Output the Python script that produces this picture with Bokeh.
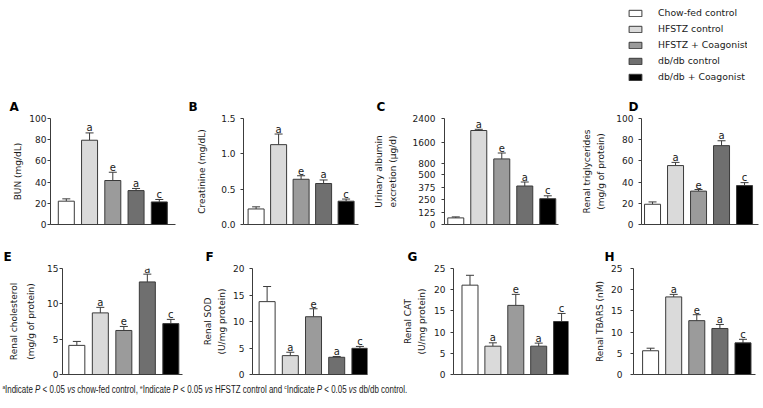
import numpy as np
from bokeh.plotting import figure
from bokeh.models import (Range1d, LinearAxis, FixedTicker, Whisker, TeeHead, ColumnDataSource,
                          Legend, LegendItem, Div, Spacer, NumeralTickFormatter)
from bokeh.layouts import row, column
from bokeh.embed import file_html
from bokeh.resources import INLINE
from bokeh.core.properties import value

# ---------------- data ----------------
groups = ["Chow-fed control", "HFSTZ control", "HFSTZ + Coagonist", "db/db control", "db/db + Coagonist"]
colors = ["#ffffff", "#dadada", "#9b9b9b", "#6f6f6f", "#000000"]
sig = ["", "a", "e", "a", "c"]

bun_mean = [22.0, 79.5, 41.5, 32.0, 21.3]
bun_err = [2.2, 6.9, 7.8, 2.0, 2.3]

creat_mean = [0.22, 1.13, 0.64, 0.58, 0.33]
creat_err = [0.03, 0.15, 0.05, 0.05, 0.03]

alb_mean = [66, 2000, 975, 385, 258]
alb_err = [10, 40, 225, 40, 29]
alb_ticks = [0, 125, 250, 375, 500, 800, 1600, 2400]
alb_breaks = [0, 500, 800, 1600, 2400]

tg_mean = [19.1, 55.6, 31.5, 74.4, 36.7]
tg_err = [2.2, 3.0, 1.5, 4.6, 2.8]

chol_mean = [4.12, 8.72, 6.23, 13.1, 7.2]
chol_err = [0.56, 0.78, 0.57, 1.1, 0.6]

sod_mean = [13.75, 3.56, 10.9, 3.25, 4.94]
sod_err = [2.85, 0.64, 1.5, 0.15, 0.36]

cat_mean = [21.07, 6.68, 16.3, 6.68, 12.5]
cat_err = [2.33, 0.79, 2.6, 0.72, 1.9]

tbars_mean = [5.6, 18.3, 12.7, 10.85, 7.46]
tbars_err = [0.6, 0.6, 1.4, 0.95, 0.84]

# ---------------- style ----------------
FONT = "DejaVu Sans"
AX = "#3c3c3c"
OUT = "#3a3a3a"
FRAME_H = 106

# piecewise (broken) scale for panel C, axis units
ALB_MARKS = [0, 50, 61, 82, 106]


def alb_scale(v):
    return np.interp(v, alb_breaks, ALB_MARKS)


def panel(letter, ylabel, means, errs, ticks, ymax, xs, spacing, frame_w,
          bl, br, bt, bb, title_off, lab_standoff, tick_standoff,
          tick_pos=None, fmt=None, overrides=None, line_h=1.4):
    means = np.asarray(means, float)
    errs = np.asarray(errs, float)
    upper_v = means + errs
    if tick_pos is None:
        top = means
        upper = upper_v
        tpos = ticks
    else:
        top = alb_scale(means)
        upper = alb_scale(upper_v)
        tpos = tick_pos
    xe = xs + frame_w / spacing
    p = figure(frame_width=frame_w, frame_height=FRAME_H,
               x_range=Range1d(xs, xe), y_range=Range1d(0, ymax),
               output_backend="svg", toolbar_location=None,
               x_axis_location=None, y_axis_location=None,
               min_border_left=bl, min_border_right=br,
               min_border_top=bt, min_border_bottom=bb)
    p.outline_line_color = None
    p.background_fill_color = "white"
    p.border_fill_color = "white"
    p.grid.visible = False

    src = ColumnDataSource(dict(x=list(range(5)), top=list(top), upper=list(upper),
                                color=colors, sig=sig))
    p.vbar(x="x", top="top", bottom=0, width=16.0 / spacing, fill_color="color",
           line_color=OUT, line_width=1, source=src)
    p.add_layout(Whisker(base="x", upper="upper", lower="top", source=src,
                         line_color=OUT, line_width=1,
                         upper_head=TeeHead(size=8, line_color=OUT, line_width=1),
                         lower_head=None))
    p.text(x="x", y="upper", text="sig", source=src, text_align="center",
           text_baseline="alphabetic", y_offset=-5, text_font=value(FONT),
           text_font_size="10px", text_color="#1a1a1a")

    yax = LinearAxis(ticker=FixedTicker(ticks=list(tpos), minor_ticks=[]),
                     axis_label=ylabel)
    if fmt is not None:
        yax.formatter = fmt
    if overrides is not None:
        yax.major_label_overrides = overrides
    yax.axis_line_color = AX
    yax.major_tick_line_color = AX
    yax.major_tick_out = 3
    yax.major_tick_in = 0
    yax.minor_tick_line_color = None
    yax.major_label_standoff = tick_standoff
    yax.major_label_text_font = FONT
    yax.major_label_text_font_size = "9px"
    yax.major_label_text_color = "#1a1a1a"
    yax.axis_label_text_font = FONT
    yax.axis_label_text_font_size = "9px"
    yax.axis_label_text_font_style = "normal"
    yax.axis_label_text_color = "#1a1a1a"
    yax.axis_label_text_line_height = line_h
    yax.axis_label_standoff = lab_standoff
    p.add_layout(yax, "left")

    xax = LinearAxis(ticker=FixedTicker(ticks=[], minor_ticks=[]))
    xax.axis_line_color = AX
    xax.major_tick_line_color = None
    xax.minor_tick_line_color = None
    xax.major_tick_out = 0
    xax.major_label_standoff = 0
    p.add_layout(xax, "below")

    p.title.text = letter
    p.title.text_font = FONT
    p.title.text_font_size = "12px"
    p.title.text_font_style = "bold"
    p.title.text_color = "#000000"
    p.title.align = "left"
    p.title.offset = title_off
    p.title.standoff = 9
    return p


alb_pos = [float(v) for v in alb_scale(alb_ticks)]
alb_over = {}
for t, pos in zip(alb_ticks, alb_pos):
    key = int(pos) if float(pos).is_integer() else pos
    alb_over[key] = str(t)
    alb_over[f"{pos:g}"] = str(t)

pA = panel("A", "BUN (mg/dL)", bun_mean, bun_err, [0, 20, 40, 60, 80, 100], 100,
           -0.68, 23.25, 125, 50, 10, 28, 16, -41, 3, 1)
pB = panel("B", "Creatinine (mg/dL)", creat_mean, creat_err, [0, 0.5, 1.0, 1.5], 1.5,
           -0.56, 22.5, 115, 58, 12, 28, 16, -55, 11, 5, fmt=NumeralTickFormatter(format="0.0"))
pC = panel("C", "Urinary albumin\nexcretion (\u00b5g/d)", alb_mean, alb_err, alb_ticks, ALB_MARKS[-1],
           -0.49, 23.0, 114, 73, 10, 28, 16, -68, 12, 6, tick_pos=alb_pos, overrides=alb_over)
pD = panel("D", "Renal triglycerides\n(mg/g of protein)", tg_mean, tg_err, [0, 20, 40, 60, 80, 100], 100,
           -0.48, 23.0, 117, 73, 6, 28, 16, -13, 7, 5)

pE = panel("E", "Renal cholesterol\n(mg/g of protein)", chol_mean, chol_err, [0, 5, 10, 15], 15,
           -0.61, 23.5, 120, 62, 8, 28, 7, -59, 8, 1, line_h=1.7)
pF = panel("F", "Renal SOD\n(U/mg protein)", sod_mean, sod_err, [0, 5, 10, 15, 20], 20,
           -0.63, 23.2, 115, 62, 8, 28, 7, -47, 3, 5)
pG = panel("G", "Renal CAT\n(U/mg protein)", cat_mean, cat_err, [0, 5, 10, 15, 20, 25], 25,
           -0.72, 22.9, 115, 78, 8, 28, 7, -46, 4, 5)
pH = panel("H", "Renal TBARS (nM)", tbars_mean, tbars_err, [0, 5, 10, 15, 20, 25], 25,
           -0.74, 23.1, 122, 57, 8, 28, 7, -29, 3, 8)

# ---------------- legend ----------------
lg = figure(width=120, height=90, x_range=Range1d(0, 1), y_range=Range1d(0, 1),
            output_backend="svg", toolbar_location=None,
            x_axis_location=None, y_axis_location=None,
            min_border_left=0, min_border_right=0, min_border_top=7, min_border_bottom=0)
lg.outline_line_color = None
lg.grid.visible = False
items = []
for g, c in zip(groups, colors):
    # placeholder swatch source: lies outside the visible range, only the legend shows it
    r = lg.vbar(x=[-5], top=[-5], bottom=-6, width=0.5, fill_color=c, line_color=OUT, line_width=1)
    items.append(LegendItem(label=g, renderers=[r]))
legend = Legend(items=items, location="top_left", margin=0, padding=0,
                glyph_width=16, glyph_height=8, label_height=11, spacing=5,
                label_standoff=15, label_text_font=FONT, label_text_font_size="9.3px",
                label_text_color="#1a1a1a", border_line_color=None,
                background_fill_alpha=0)
lg.add_layout(legend)

legend_row = row(Spacer(width=627, height=90), lg, spacing=0)

foot_html = (
    '<div style="font-family:\'Liberation Sans\';font-size:10px;color:#1a1a1a;white-space:nowrap;'
    'transform:scaleX(0.795);transform-origin:0 0;padding-top:0px;padding-left:3px;line-height:10px;">'
    '<sup style="font-size:6px">a</sup>Indicate <i>P</i> &lt; 0.05 <i>vs</i> chow-fed control, '
    '<sup style="font-size:6px">e</sup>Indicate <i>P</i> &lt; 0.05 <i>vs</i> HFSTZ control and '
    '<sup style="font-size:6px">c</sup>Indicate <i>P</i> &lt; 0.05 <i>vs</i> db/db control.</div>'
)
foot = Div(text=foot_html, width=747, height=26, margin=0)

layout = column(legend_row,
                row(pA, pB, pC, pD, spacing=0),
                row(pE, pF, pG, pH, spacing=0),
                foot, spacing=0)

open("out.html", "w").write(file_html(layout, INLINE))
